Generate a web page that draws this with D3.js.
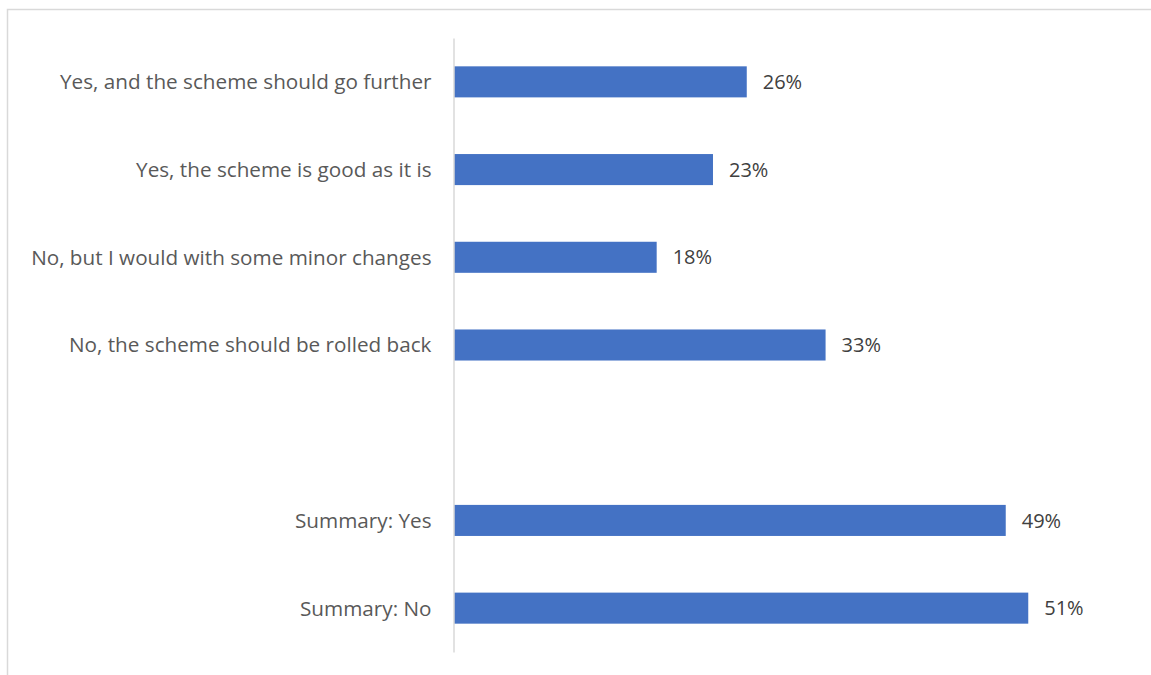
<!DOCTYPE html>
<html><head><meta charset="utf-8">
<script src="https://cdn.jsdelivr.net/npm/d3@7"></script>
<style>html,body{margin:0;padding:0;background:#fff;overflow:hidden}</style>
</head><body>
<svg id="chart" width="1151" height="675"></svg>
<script>
const categories = [
  "Yes, and the scheme should go further",
  "Yes, the scheme is good as it is",
  "No, but I would with some minor changes",
  "No, the scheme should be rolled back",
  "",
  "Summary: Yes",
  "Summary: No"
];
const values = [26, 23, 18, 33, null, 49, 51];
const valueLabels = ["26%", "23%", "18%", "33%", "", "49%", "51%"];

const svg = d3.select("#chart");
const font = "'Open Sans', sans-serif";

// chart border
svg.append("rect").attr("x", 7.5).attr("y", 9.5).attr("width", 1160).attr("height", 700)
  .attr("fill", "none").attr("stroke", "#d9d9d9").attr("stroke-width", 1.5);

const x0 = 454;
const x = d3.scaleLinear().domain([0, 10]).range([x0, x0 + 112.6]);
const y = d3.scaleBand().domain(d3.range(categories.length)).range([38, 652]).paddingInner(0.646).paddingOuter(0.323);

const g = svg.append("g");
values.forEach((v, i) => {
  if (v == null) return;
  g.append("rect")
    .attr("x", x(0)).attr("y", y(i))
    .attr("width", x(v) - x(0)).attr("height", y.bandwidth())
    .attr("fill", "#4472c4");
  g.append("text")
    .attr("x", x(v) + 16).attr("y", y(i) + y.bandwidth() / 2)
    .attr("dy", "0.36em")
    .attr("font-family", font).attr("font-size", 20).attr("fill", "#404040")
    .text(valueLabels[i]);
});

// category axis
const axis = d3.axisLeft(y).tickSize(0).tickPadding(22).tickFormat(i => categories[i]);
const ax = svg.append("g").attr("transform", `translate(${x0 - 0.5},0)`).call(axis);
ax.select(".domain").attr("stroke", "#d9d9d9").attr("stroke-width", 1.5);
ax.selectAll("text").attr("font-family", font).attr("font-size", 20.7).attr("fill", "#595959").attr("dy", "0.36em");
</script>
</body></html>
